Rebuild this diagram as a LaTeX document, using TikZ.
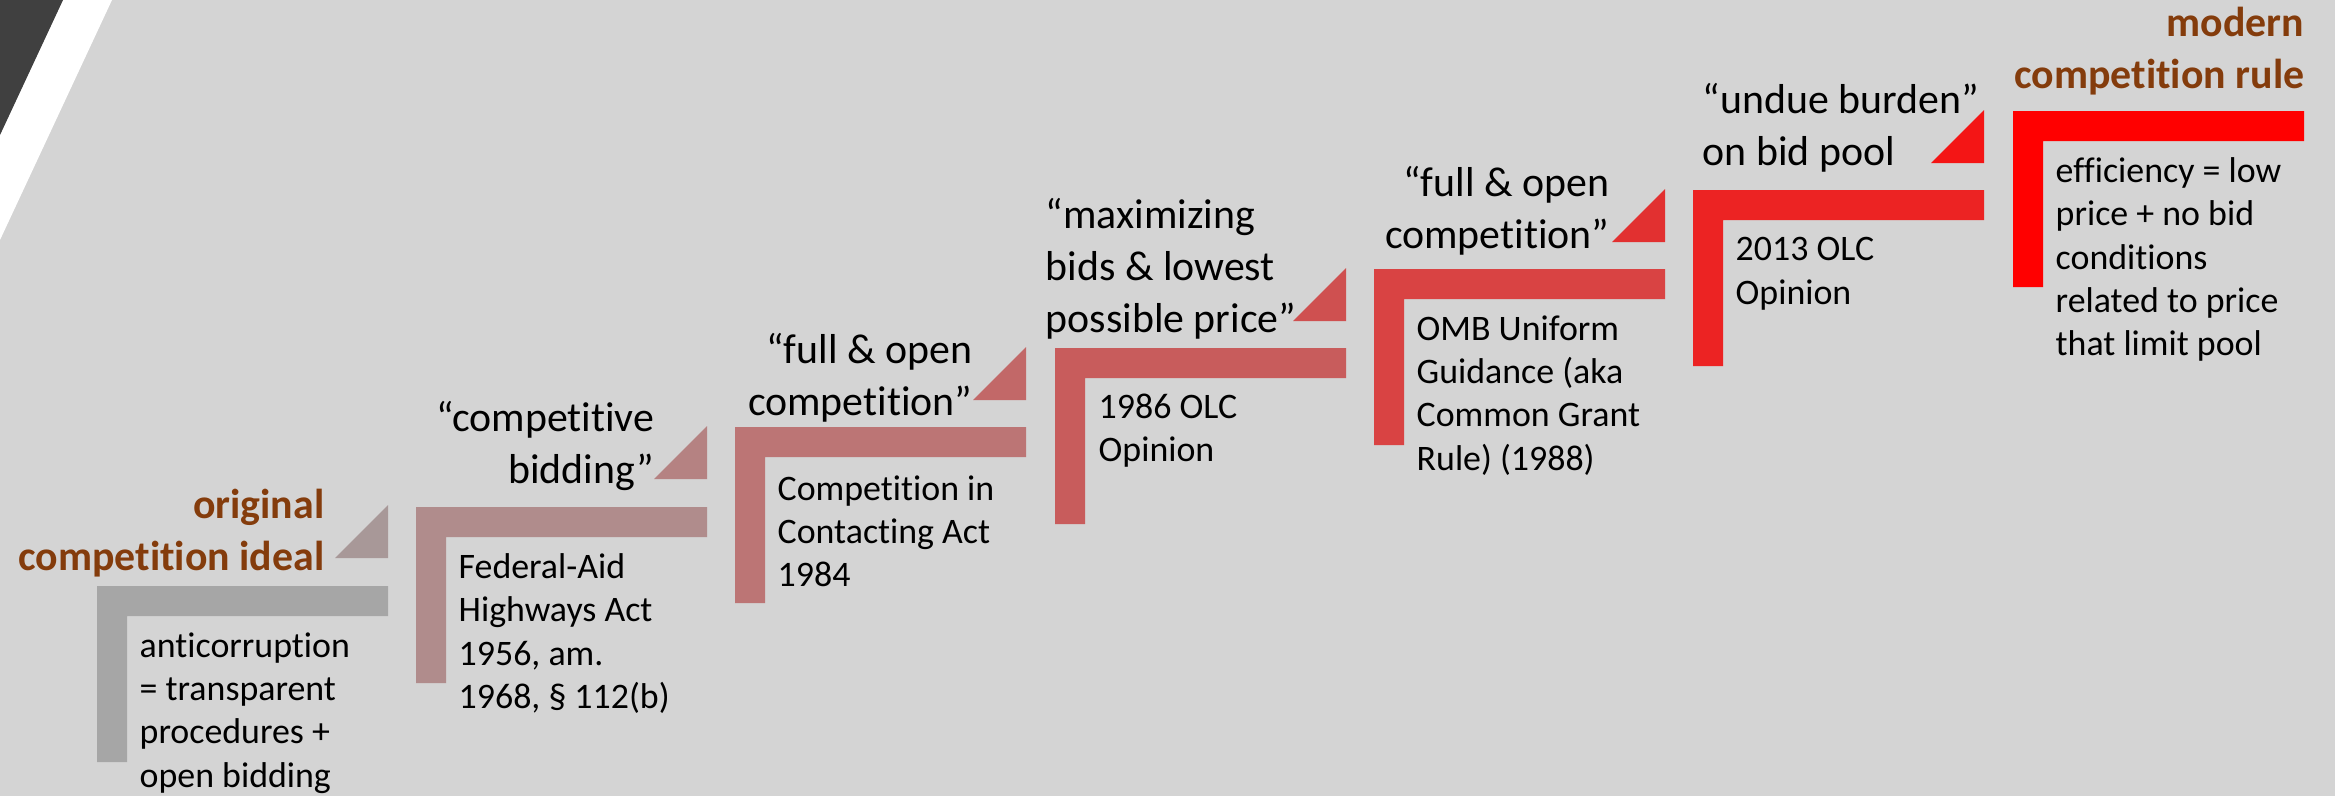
\documentclass[tikz,border=0pt]{standalone}
\usepackage{fontspec}
\setmainfont{Carlito}[Ligatures=NoCommon]
\usepackage{xcolor}

\definecolor{bggray}{RGB}{212,212,212}
\definecolor{darkslab}{RGB}{64,64,64}
\definecolor{headbrown}{HTML}{843C0C}
% bar colours, grey to red
\definecolor{barA}{HTML}{A6A6A6}
\definecolor{barB}{HTML}{B08C8C}
\definecolor{barC}{HTML}{BC7575}
\definecolor{barD}{HTML}{C85C5C}
\definecolor{barE}{HTML}{D94343}
\definecolor{barF}{HTML}{EC2323}
\definecolor{barG}{HTML}{FF0000}
% riser colours
\definecolor{riseA}{HTML}{A89898}
\definecolor{riseB}{HTML}{B58282}
\definecolor{riseC}{HTML}{C26868}
\definecolor{riseD}{HTML}{CF5050}
\definecolor{riseE}{HTML}{E23030}
\definecolor{riseF}{HTML}{F41515}

\begin{document}
\begin{tikzpicture}[x=0.01cm,y=-0.01cm]
\tikzset{body/.style = {anchor=north west,inner sep=0pt,align=left,
  execute at begin node=\strut,font=\fontsize{10.2}{12.3}\selectfont}}
\tikzset{quote/.style = {anchor=north east,inner sep=0pt,align=right,
  execute at begin node=\strut,font=\fontsize{11.9}{14.8}\selectfont}}
\tikzset{quoteleft/.style = {quote,anchor=north west,align=left}}
\tikzset{title/.style = {quote,text=headbrown,
  font=\fontsize{11.9}{14.8}\selectfont\bfseries}}
% background and corner
\fill[bggray] (0,0) rectangle (2335,796);
\useasboundingbox (0,0) rectangle (2335,796);
\fill[white] (63,0) -- (112,0) -- (0,240) -- (0,135) -- cycle;
\fill[darkslab] (0,0) -- (63,0) -- (0,135) -- cycle;
% steps
\fill[barA] (97,586) -- ++(291,0) -- ++(0,30) -- ++(-261,0) -- ++(0,146) -- ++(-30,0) -- cycle;
\fill[barB] (416,507) -- ++(291,0) -- ++(0,30) -- ++(-261,0) -- ++(0,146) -- ++(-30,0) -- cycle;
\fill[barC] (735,427) -- ++(291,0) -- ++(0,30) -- ++(-261,0) -- ++(0,146) -- ++(-30,0) -- cycle;
\fill[barD] (1055,348) -- ++(291,0) -- ++(0,30) -- ++(-261,0) -- ++(0,146) -- ++(-30,0) -- cycle;
\fill[barE] (1374,269) -- ++(291,0) -- ++(0,30) -- ++(-261,0) -- ++(0,146) -- ++(-30,0) -- cycle;
\fill[barF] (1693,190) -- ++(291,0) -- ++(0,30) -- ++(-261,0) -- ++(0,146) -- ++(-30,0) -- cycle;
\fill[barG] (2013,111) -- ++(291,0) -- ++(0,30) -- ++(-261,0) -- ++(0,146) -- ++(-30,0) -- cycle;
% risers
\fill[riseA] (335,558) -- ++(53,0) -- ++(0,-53) -- cycle;
\fill[riseB] (654,479) -- ++(53,0) -- ++(0,-53) -- cycle;
\fill[riseC] (973,400) -- ++(53,0) -- ++(0,-53) -- cycle;
\fill[riseD] (1293,321) -- ++(53,0) -- ++(0,-53) -- cycle;
\fill[riseE] (1612,242) -- ++(53,0) -- ++(0,-53) -- cycle;
\fill[riseF] (1931,163) -- ++(53,0) -- ++(0,-53) -- cycle;
% headings
\node[title] (orig) at (325,488) {original\\competition ideal};
\node[quote] (bidding) at (655,401) {“competitive\\bidding”};
\node[quote] (fullopen) at (973,333) {“full \& open\\competition”};
\node[quoteleft] (maxbids) at (1045,198) {“maximizing\\bids \& lowest\\possible price”};
\node[quote] (fullopenb) at (1610,166) {“full \& open\\competition”};
\node[quoteleft] (undue) at (1702,83) {“undue burden”\\on bid pool};
\node[title] (modern) at (2305,6) {modern\\competition rule};
% sources
\node[body] (anticorr) at (139,632) {anticorruption\\= transparent\\procedures +\\open bidding};
\node[body] (highways) at (458,553) {Federal-Aid\\Highways Act\\1956, am.\\1968, § 112(b)};
\node[body] (cica) at (777,475) {Competition in\\Contacting Act\\1984};
\node[body] (olc) at (1098,393) {1986 OLC\\Opinion};
\node[body] (omb) at (1416,315) {OMB Uniform\\Guidance (aka\\Common Grant\\Rule) (1988)};
\node[body] (olcb) at (1735,237) {2013 OLC\\Opinion};
\node[body] (efficiency) at (2055,157) {efficiency = low\\price + no bid\\conditions\\related to price\\that limit pool};
\end{tikzpicture}
\end{document}
